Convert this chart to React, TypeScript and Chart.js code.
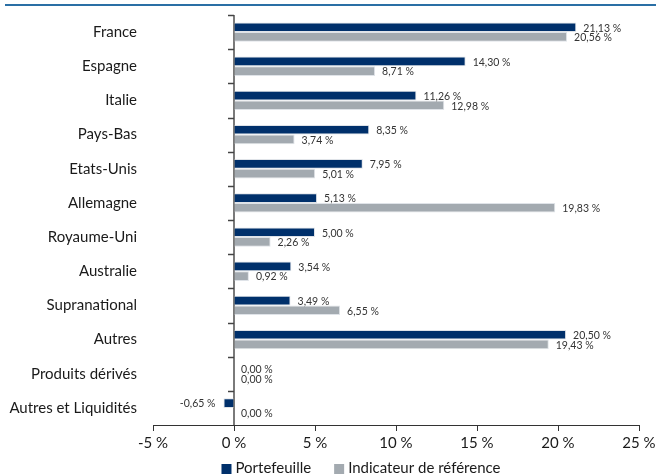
import React, { useEffect, useRef } from 'react';
import { Chart, registerables } from 'chart.js';

Chart.register(...registerables);

const categories = [
  'France',
  'Espagne',
  'Italie',
  'Pays-Bas',
  'Etats-Unis',
  'Allemagne',
  'Royaume-Uni',
  'Australie',
  'Supranational',
  'Autres',
  'Produits dérivés',
  'Autres et Liquidités',
];
const portefeuille = [21.13, 14.3, 11.26, 8.35, 7.95, 5.13, 5.0, 3.54, 3.49, 20.5, 0.0, -0.65];
const indicateur = [20.56, 8.71, 12.98, 3.74, 5.01, 19.83, 2.26, 0.92, 6.55, 19.43, 0.0, 0.0];
const seriesNames = ['Portefeuille', 'Indicateur de référence'];
const xTickValues = [-5, 0, 5, 10, 15, 20, 25];

const FONT = 'Lato, "Noto Sans", sans-serif';
const BLUE = '#00306b';
const GRAY = '#a3aab0';

const fmt = (v: number) => v.toFixed(2).replace('.', ',') + ' %';

const zeroAxisPlugin = {
  id: 'zeroAxis',
  beforeDatasetsDraw(chart: any) {
    const { ctx, chartArea } = chart;
    const x0 = chart.scales.x.getPixelForValue(0);
    ctx.save();
    ctx.strokeStyle = '#7a7a7a';
    ctx.lineWidth = 2;
    ctx.beginPath();
    ctx.moveTo(x0, chartArea.top);
    ctx.lineTo(x0, chartArea.bottom);
    ctx.stroke();
    const ys = chart.scales.y;
    ctx.strokeStyle = '#444';
    ctx.lineWidth = 1.5;
    for (let i = 0; i < categories.length; i++) {
      const py = Math.round(ys.getPixelForValue(i - 0.5)) + 0.5;
      ctx.beginPath();
      ctx.moveTo(x0 - 6, py);
      ctx.lineTo(x0, py);
      ctx.stroke();
    }
    ctx.restore();
  },
};

const valueLabelPlugin = {
  id: 'valueLabels',
  afterDatasetsDraw(chart: any) {
    const { ctx } = chart;
    ctx.save();
    ctx.font = `10.5px ${FONT}`;
    ctx.fillStyle = '#333';
    ctx.textBaseline = 'middle';
    chart.data.datasets.forEach((ds: any, di: number) => {
      const meta = chart.getDatasetMeta(di);
      meta.data.forEach((bar: any, i: number) => {
        const v = ds.data[i] as number;
        const neg = v < 0;
        ctx.textAlign = neg ? 'right' : 'left';
        ctx.fillText(fmt(v), bar.x + (neg ? -8 : 7), bar.y + 1);
      });
    });
    ctx.restore();
  },
};

const legendPlugin = {
  id: 'customLegend',
  afterDraw(chart: any) {
    const { ctx } = chart;
    ctx.save();
    ctx.font = `15px ${FONT}`;
    ctx.textBaseline = 'middle';
    ctx.textAlign = 'left';
    const box = 10;
    const gapText = 4;
    const gapItems = 23;
    const widths = chart.data.datasets.map((d: any) => ctx.measureText(d.label).width);
    const total =
      widths.reduce((a: number, w: number) => a + box + gapText + w, 0) +
      gapItems * (widths.length - 1);
    let x = 361 - total / 2;
    const yc = 469;
    chart.data.datasets.forEach((d: any, i: number) => {
      ctx.fillStyle = d.backgroundColor;
      ctx.fillRect(x, yc - box / 2, box, box);
      x += box + gapText;
      ctx.fillStyle = '#1a1a1a';
      ctx.fillText(d.label, x, yc - 1);
      x += widths[i] + gapItems;
    });
    ctx.restore();
  },
};

export default function App() {
  const ref = useRef<HTMLCanvasElement | null>(null);

  useEffect(() => {
    if (!ref.current) return;
    const chart = new Chart(ref.current, {
      type: 'bar',
      data: {
        labels: categories,
        datasets: [
          {
            label: seriesNames[0],
            data: portefeuille,
            backgroundColor: BLUE,
            borderColor: '#dfe3e8',
            borderWidth: 1,
            barPercentage: 1,
            categoryPercentage: 0.565,
          },
          {
            label: seriesNames[1],
            data: indicateur,
            backgroundColor: GRAY,
            borderColor: '#dfe3e8',
            borderWidth: 1,
            barPercentage: 1,
            categoryPercentage: 0.565,
          },
        ],
      },
      options: {
        indexAxis: 'y',
        responsive: false,
        animation: false,
        layout: { padding: { top: 15, bottom: 20, left: 0, right: 0 } },
        plugins: {
          legend: { display: false },
          tooltip: { enabled: false },
        },
        scales: {
          x: {
            type: 'linear',
            min: -5,
            max: 25,
            afterBuildTicks: (s: any) => {
              s.ticks = xTickValues.map((v) => ({ value: v }));
            },
            afterFit: (s: any) => {
              s.paddingLeft = 0;
              s.paddingRight = 17;
            },
            ticks: {
              callback: (v: any) => `${v} %`,
              color: '#1a1a1a',
              font: { family: FONT, size: 15 },
              padding: 3,
              maxRotation: 0,
            },
            grid: {
              drawOnChartArea: false,
              drawTicks: true,
              tickLength: 6,
              color: '#333',
              tickColor: '#333',
            },
            border: { display: true, color: '#333', width: 1 },
          },
          y: {
            type: 'category',
            afterFit: (s: any) => {
              s.width = 153;
              s.paddingTop = 0;
              s.paddingBottom = 0;
            },
            ticks: {
              color: '#1a1a1a',
              font: { family: FONT, size: 15 },
              padding: 16,
            },
            grid: { display: false, drawTicks: false },
            border: { display: false },
          },
        },
      } as any,
      plugins: [zeroAxisPlugin, valueLabelPlugin, legendPlugin],
    });
    return () => chart.destroy();
  }, []);

  return (
    <div style={{ position: 'absolute', left: 0, top: 0, width: 656, height: 475, background: '#fff' }}>
      <div
        style={{
          position: 'absolute',
          left: 5,
          top: 4,
          width: 651,
          height: 2,
          background: '#2a6fa5',
        }}
      />
      <canvas ref={ref} width={656} height={475} style={{ position: 'absolute', left: 0, top: 0 }} />
    </div>
  );
}
